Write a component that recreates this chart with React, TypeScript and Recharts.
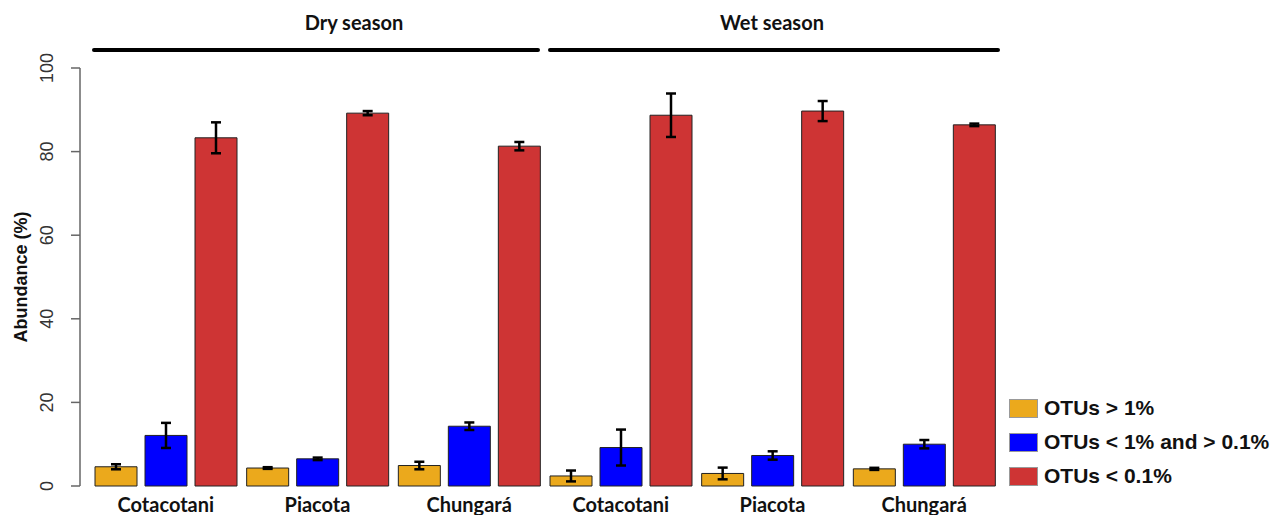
import React from 'react';
import { BarChart, Bar, XAxis, YAxis, ErrorBar } from 'recharts';

// sites, dry season first then wet season
const sites = ['Cotacotani', 'Piacota', 'Chungará', 'Cotacotani', 'Piacota', 'Chungará'];
const seasons = ['Dry season', 'Wet season'];

// mean abundance (%) and error per OTU class
const otuHigh = [4.6, 4.3, 4.9, 2.4, 3.0, 4.1];
const otuHighErr = [0.6, 0.2, 0.9, 1.3, 1.4, 0.25];
const otuMid = [12.1, 6.5, 14.3, 9.2, 7.3, 10.0];
const otuMidErr = [3.0, 0.3, 0.9, 4.3, 1.0, 1.0];
const otuLow = [83.3, 89.2, 81.3, 88.7, 89.7, 86.4];
const otuLowErr = [3.7, 0.5, 1.0, 5.2, 2.4, 0.3];

const yTicks = [0, 20, 40, 60, 80, 100];

const series = [
  { key: 'high', err: 'highErr', name: 'OTUs > 1%', color: '#EBA91C' },
  { key: 'mid', err: 'midErr', name: 'OTUs < 1% and > 0.1%', color: '#0000FF' },
  { key: 'low', err: 'lowErr', name: 'OTUs < 0.1%', color: '#CE3434' },
];

const data = sites.map((site, i) => ({
  id: i,
  site,
  high: otuHigh[i],
  highErr: otuHighErr[i],
  mid: otuMid[i],
  midErr: otuMidErr[i],
  low: otuLow[i],
  lowErr: otuLowErr[i],
}));

const titleFont = 'Lato, "Open Sans", sans-serif';
const axisFont = '"Liberation Sans", Arial, sans-serif';

function SiteTick(props: any) {
  const { x, y, payload } = props;
  return (
    <text x={x} y={y + 26} textAnchor="middle" fontFamily={titleFont} fontWeight="bold" fontSize={20} fill="#111">
      {sites[payload.value]}
    </text>
  );
}

function ValueTick(props: any) {
  const { x, y, payload } = props;
  return (
    <text x={x} y={y} transform={`rotate(-90 ${x} ${y})`} textAnchor="middle" fontFamily={axisFont} fontSize={18} fill="#333">
      {payload.value}
    </text>
  );
}

// legend drawn beside the chart so it does not take plot space
function LegendBox() {
  return (
    <div style={{ position: 'absolute', left: 1009, top: 391 }}>
      {series.map((s) => (
        <div key={s.key} style={{ display: 'flex', alignItems: 'center', height: 34 }}>
          <span style={{ width: 27, height: 17, background: s.color, border: '1px solid #999', marginRight: 6 }} />
          <span style={{ fontFamily: axisFont, fontWeight: 'bold', fontSize: 21, color: '#111', whiteSpace: 'nowrap' }}>{s.name}</span>
        </div>
      ))}
    </div>
  );
}

const headStyle: React.CSSProperties = {
  position: 'absolute', top: 10, fontFamily: titleFont, fontWeight: 'bold', fontSize: 20, color: '#111',
  transform: 'translateX(-50%)', whiteSpace: 'nowrap',
};
const barStyle: React.CSSProperties = { position: 'absolute', top: 48, height: 4, background: '#000', borderRadius: 2 };

export default function App() {
  return (
    <div style={{ position: 'absolute', left: 0, top: 0, width: 1274, height: 515, background: '#fff', overflow: 'hidden' }}>
      <BarChart
        width={1274}
        height={515}
        data={data}
        margin={{ top: 68, right: 274, left: 0, bottom: 0 }}
        barSize={42}
        barGap={8}
      >
        <XAxis
          dataKey="id"
          axisLine={false}
          tickLine={false}
          tickSize={0}
          tickMargin={0}
          height={29}
          padding={{ left: 10, right: 0 }}
          tick={<SiteTick />}
          interval={0}
        />
        <YAxis
          width={80}
          domain={[0, 100]}
          ticks={yTicks}
          axisLine={{ stroke: '#666', strokeWidth: 1.5 }}
          tickLine={{ stroke: '#666', strokeWidth: 1.5 }}
          tickSize={9}
          tickMargin={18}
          tick={<ValueTick />}
          label={{
            value: 'Abundance (%)', angle: -90, position: 'center', dx: -19,
            style: { fontFamily: axisFont, fontWeight: 'bold', fontSize: 18, fill: '#111' },
          }}
        />
        {series.map((s) => (
          <Bar key={s.key} dataKey={s.key} name={s.name} fill={s.color} stroke="#222" strokeWidth={1} isAnimationActive={false}>
            <ErrorBar dataKey={s.err} width={5} stroke="#000" strokeWidth={2.5} direction="y" />
          </Bar>
        ))}
      </BarChart>
      <LegendBox />
      <div style={{ ...headStyle, left: 354 }}>{seasons[0]}</div>
      <div style={{ ...barStyle, left: 92, width: 448 }} />
      <div style={{ ...headStyle, left: 772 }}>{seasons[1]}</div>
      <div style={{ ...barStyle, left: 548, width: 452 }} />
    </div>
  );
}
